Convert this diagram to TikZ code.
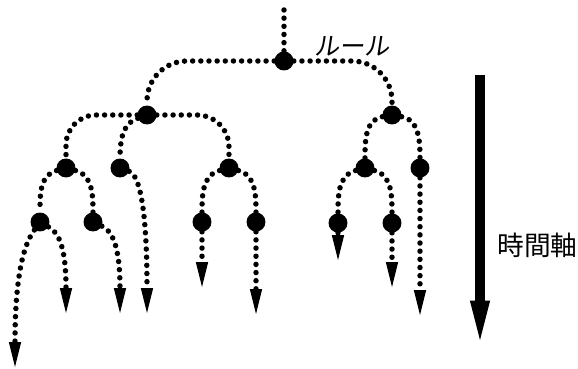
\documentclass[tikz,border=0pt]{standalone}
\usepackage{fontspec}
\usepackage{tikz}
\usetikzlibrary{arrows.meta}
\newfontfamily\jpfont{Noto Sans CJK JP}
\newfontfamily\jpslant{Noto Sans CJK JP}[FakeSlant=0.15]
\tikzset{
  tdot/.style={circle,fill=black,inner sep=0pt,minimum size=13.5pt},
  tline/.style={line width=3.9pt,line cap=round,dash pattern=on 0pt off 5.8pt},
  ttip/.style={-{Triangle[length=17.7pt,width=8.8pt,line width=0pt]}},
  taxis/.style={line width=6.6pt,-{Triangle[length=28pt,width=14.4pt,line width=0pt]}}
}
\newcommand{\tdot}[3]{\node[tdot] (#1) at (#2,-#3) {};}
\newcommand{\tend}[3]{\coordinate (#1) at (#2,-#3);}
\newcommand{\tfork}[3]{\draw[tline] (#1) to[out=#3,in=90] (#2);}
\newcommand{\tleaf}[5]{%
  \draw[tline,ttip] (#1) to[out=#3,in=90,out distance=#4pt,in distance=#5pt] (#2);}
\newcommand{\tdrop}[2]{\draw[tline,ttip] (#1) -- (#2);}

\begin{document}
\begin{tikzpicture}[x=0.025cm,y=0.025cm]
  \useasboundingbox (0,0) rectangle (578,-368);
  % branching points
  \foreach \n/\x/\y in {R/284/61, A/147/115, B/392/115,
      A1/66/168, A2/120/168, A3/229/168, B1/365/168, B2/420/168,
      A1a/40/222, A1b/93/222, A3a/202/222, A3b/256/222, B1a/338/223, B1b/392/223}
    {\tdot{\n}{\x}{\y}}
  % free ends
  \tend{T}{284}{10}
  \tend{L1}{15}{367} \tend{L2}{66}{313} \tend{L3}{120}{313}
  \tend{L4}{147}{313} \tend{L5}{202}{287} \tend{L6}{256}{314}
  \tend{L7}{338}{260} \tend{L8}{392}{287} \tend{L9}{420}{315}
  \tend{Z1}{480}{75} \tend{Z2}{480}{340}
  % branches
  \draw[tline] (T) -- (R);
  \draw[tline,rounded corners=1cm] (R) -| (A);
  \draw[tline,rounded corners=1cm] (R) -| (B);
  \draw[tline,rounded corners=0.75cm] (A) -| (A1);
  \draw[tline,rounded corners=0.8cm] (A) -| (A3);
  \draw[tline] (A) to[out=200,in=90,out distance=8pt,in distance=20pt] (A2);
  \tfork{B}{B1}{190} \tfork{B}{B2}{-10}
  \tfork{A1}{A1a}{195} \tfork{A1}{A1b}{-15}
  \tfork{A3}{A3a}{195} \tfork{A3}{A3b}{-15}
  \tfork{B1}{B1a}{195} \tfork{B1}{B1b}{-15}
  % leaves
  \tleaf{A1a}{L1}{-125}{6}{78}
  \tleaf{A1a}{L2}{-30}{7}{50}
  \tleaf{A1b}{L3}{-25}{7}{50}
  \tleaf{A2}{L4}{-20}{8.5}{71}
  \tdrop{A3a}{L5} \tdrop{A3b}{L6} \tdrop{B1a}{L7} \tdrop{B1b}{L8} \tdrop{B2}{L9}
  % time axis
  \draw[taxis] (Z1) -- (Z2);
  \node[font=\jpslant\fontsize{18pt}{20pt}\selectfont] (rule) at (352,-46) {ルール};
  \node[font=\jpfont\fontsize{19pt}{21pt}\selectfont,anchor=west,inner sep=0pt] (axis) at (497,-245) {時間軸};
\end{tikzpicture}
\end{document}
